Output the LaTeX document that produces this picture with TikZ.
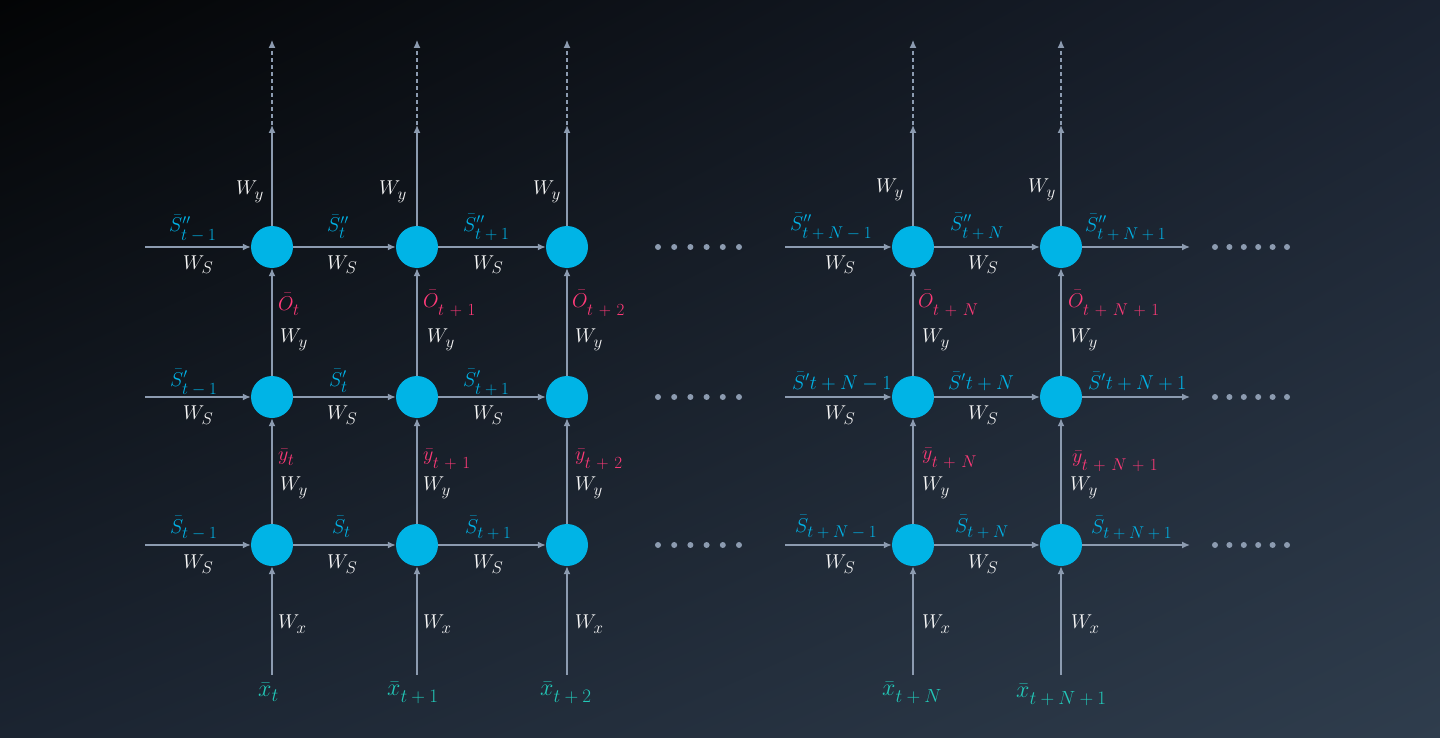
\RequirePackage{fix-cm}
\documentclass[tikz,border=0pt]{standalone}
\usetikzlibrary{arrows.meta,shadings}
\definecolor{bgUL}{HTML}{030405}
\definecolor{bgUR}{HTML}{1A2230}
\definecolor{bgLL}{HTML}{1B2431}
\definecolor{bgLR}{HTML}{2F3D4D}
\definecolor{nodecyan}{HTML}{00B4E6}
\definecolor{arrowgray}{HTML}{8C9BB0}
\definecolor{labelcyan}{HTML}{00B2E6}
\definecolor{labelpink}{HTML}{FF3A78}
\definecolor{labelteal}{HTML}{22C8B8}
\definecolor{labelwhite}{HTML}{F6F6F6}
% large subscripts, lowered
\newcommand\sbs[2][-4pt]{_{\raisebox{#1}{\fontsize{17}{20}\selectfont$#2$}}}
\newcommand\sbx[2][-4pt]{_{\raisebox{#1}{\fontsize{19}{22}\selectfont$#2$}}}
\newcommand\pp{\mskip6mu{+}\mskip6mu}
\newcommand\WS{W\sbs[-2pt]{S}}
\newcommand\Wy{W\sbs[-2pt]{y}}
\newcommand\Wx{W\sbs[-2pt]{x}}
\begin{document}
\begin{tikzpicture}[x=1pt,y=-1pt,
  neuron/.style={circle, fill=nodecyan, minimum size=42pt, inner sep=0pt},
  conn/.style={draw=arrowgray, line width=1.4pt, -{Latex[length=8pt,width=7pt]}},
  dashconn/.style={draw=arrowgray, line width=1.1pt, dash pattern=on 4pt off 3pt, -{Latex[length=8pt,width=7pt]}},
  lbl/.style={font=\fontsize{20}{24}\selectfont, inner sep=0pt, anchor=base west},
  wlbl/.style={lbl, text=labelwhite},
  slbl/.style={lbl, text=labelcyan},
  plbl/.style={lbl, text=labelpink},
  xlbl/.style={lbl, text=labelteal, font=\fontsize{24}{28}\selectfont},
  dotmark/.style={circle, fill=arrowgray, minimum size=6pt, inner sep=0pt}]
\useasboundingbox (0,0) rectangle (1440,738);
\shade[upper left=bgUL, upper right=bgUR, lower left=bgLL, lower right=bgLR] (0pt,0pt) rectangle (1440pt,-738pt);

% neurons
\foreach \c/\x in {1/272,2/417,3/567,4/913,5/1061}{
  \node[neuron] (a\c) at (\x,247) {};
  \node[neuron] (b\c) at (\x,397) {};
  \node[neuron] (c\c) at (\x,545) {};
  \coordinate (m\c) at (\x,125);
  \coordinate (t\c) at (\x,40);
  \coordinate (i\c) at (\x,675);
}
% free ends
\foreach \r/\y in {a/247,b/397,c/545}{
  \coordinate (in\r1) at (145,\y);
  \coordinate (in\r4) at (785,\y);
  \coordinate (out\r5) at (1190,\y);
}

% horizontal connectors
\foreach \r in {a,b,c}{
  \draw[conn] (in\r1) -- (\r1);
  \draw[conn] (\r1) -- (\r2);
  \draw[conn] (\r2) -- (\r3);
  \draw[conn] (in\r4) -- (\r4);
  \draw[conn] (\r4) -- (\r5);
  \draw[conn] (\r5) -- (out\r5);
}
% vertical connectors
\foreach \c in {1,2,3,4,5}{
  \draw[conn] (i\c) -- (c\c);
  \draw[conn] (c\c) -- (b\c);
  \draw[conn] (b\c) -- (a\c);
  \draw[conn] (a\c) -- (m\c);
  \draw[dashconn] (m\c) -- (t\c);
}

% dots
\foreach \r/\y in {a/247,b/397,c/545}{
  \foreach \k/\x in {1/658,2/674.2,3/690.4,4/706.6,5/722.8,6/739}{
    \node[dotmark] (dl\r\k) at (\x,\y) {};
  }
  \foreach \k/\x in {1/1215,2/1229.4,3/1243.8,4/1258.2,5/1272.6,6/1287}{
    \node[dotmark] (dr\r\k) at (\x,\y) {};
  }
}

% top W_y labels
\node[wlbl] (wt1) at (236,195) {$\Wy$};
\node[wlbl] (wt2) at (379,195) {$\Wy$};
\node[wlbl] (wt3) at (533,195) {$\Wy$};
\node[wlbl] (wt4) at (876,193) {$\Wy$};
\node[wlbl] (wt5) at (1028,193) {$\Wy$};

% top row state labels
\node[slbl] (sa0) at (169,232) {$\bar{S}''\sbs{t-1}$};
\node[slbl] (sa1) at (327,232) {$\bar{S}''\sbs[-2pt]{t}$};
\node[slbl] (sa2) at (463,231) {$\bar{S}''\sbs{t+1}$};
\node[slbl] (sa3) at (790,230) {$\bar{S}''\sbs{t+N-1}$};
\node[slbl] (sa4) at (950,230) {$\bar{S}''\sbs{t+N}$};
\node[slbl] (sa5) at (1085,231) {$\bar{S}''\sbs{t+N+1}$};
\node[wlbl] (wa0) at (183,269) {$\WS$};
\node[wlbl] (wa1) at (327,269) {$\WS$};
\node[wlbl] (wa2) at (473,269) {$\WS$};
\node[wlbl] (wa3) at (825,269) {$\WS$};
\node[wlbl] (wa4) at (968,269) {$\WS$};

% middle row state labels
\node[slbl] (sb0) at (170,386) {$\bar{S}'\sbs{t-1}$};
\node[slbl] (sb1) at (329,386) {$\bar{S}'\sbs[-2pt]{t}$};
\node[slbl] (sb2) at (463,386) {$\bar{S}'\sbs{t+1}$};
\node[slbl] (sb3) at (792,389) {$\bar{S}'t+N-1$};
\node[slbl] (sb4) at (948,389) {$\bar{S}'t+N$};
\node[slbl] (sb5) at (1088,389) {$\bar{S}'t+N+1$};
\node[wlbl] (wb0) at (183,419) {$\WS$};
\node[wlbl] (wb1) at (327,419) {$\WS$};
\node[wlbl] (wb2) at (473,419) {$\WS$};
\node[wlbl] (wb3) at (825,419) {$\WS$};
\node[wlbl] (wb4) at (968,419) {$\WS$};

% bottom row state labels
\node[slbl] (sc0) at (170,533) {$\bar{S}\sbs[-2pt]{t-1}$};
\node[slbl] (sc1) at (332,533) {$\bar{S}\sbs[-1pt]{t}$};
\node[slbl] (sc2) at (465,533) {$\bar{S}\sbs[-2pt]{t+1}$};
\node[slbl] (sc3) at (795,532) {$\bar{S}\sbs[-2pt]{t+N-1}$};
\node[slbl] (sc4) at (955,532) {$\bar{S}\sbs[-2pt]{t+N}$};
\node[slbl] (sc5) at (1091,533) {$\bar{S}\sbs[-2pt]{t+N+1}$};
\node[wlbl] (wc0) at (183,568) {$\WS$};
\node[wlbl] (wc1) at (327,568) {$\WS$};
\node[wlbl] (wc2) at (473,568) {$\WS$};
\node[wlbl] (wc3) at (825,568) {$\WS$};
\node[wlbl] (wc4) at (968,568) {$\WS$};

% O labels
\node[plbl] (o1) at (278,310) {$\bar{O}\sbs[-2pt]{t}$};
\node[plbl] (o2) at (423,307) {$\bar{O}\sbs[-5pt]{t\pp1}$};
\node[plbl] (o3) at (572,307) {$\bar{O}\sbs[-5pt]{t\pp2}$};
\node[plbl] (o4) at (918,307) {$\bar{O}\sbs[-5pt]{t\pp N}$};
\node[plbl] (o5) at (1068,307) {$\bar{O}\sbs[-5pt]{t\pp N\pp1}$};
\node[wlbl] (wo1) at (280,342) {$\Wy$};
\node[wlbl] (wo2) at (427,342) {$\Wy$};
\node[wlbl] (wo3) at (575,342) {$\Wy$};
\node[wlbl] (wo4) at (922,342) {$\Wy$};
\node[wlbl] (wo5) at (1070,342) {$\Wy$};

% y labels
\node[plbl] (y1) at (278,460) {$\bar{y}\sbs[-2pt]{t}$};
\node[plbl] (y2) at (423,460) {$\bar{y}\sbs[-5pt]{t\pp1}$};
\node[plbl] (y3) at (575,460) {$\bar{y}\sbs[-5pt]{t\pp2}$};
\node[plbl] (y4) at (922,459) {$\bar{y}\sbs[-5pt]{t\pp N}$};
\node[plbl] (y5) at (1072,462) {$\bar{y}\sbs[-5pt]{t\pp N\pp1}$};
\node[wlbl] (wy1) at (280,490) {$\Wy$};
\node[wlbl] (wy2) at (423,490) {$\Wy$};
\node[wlbl] (wy3) at (575,490) {$\Wy$};
\node[wlbl] (wy4) at (922,490) {$\Wy$};
\node[wlbl] (wy5) at (1070,490) {$\Wy$};

% W_x labels
\node[wlbl] (wx1) at (278,628) {$\Wx$};
\node[wlbl] (wx2) at (423,628) {$\Wx$};
\node[wlbl] (wx3) at (575,628) {$\Wx$};
\node[wlbl] (wx4) at (922,628) {$\Wx$};
\node[wlbl] (wx5) at (1071,628) {$\Wx$};

% x labels
\node[xlbl] (x1) at (258,696) {$\bar{x}\sbx[-2pt]{t}$};
\node[xlbl] (x2) at (387,695) {$\bar{x}\sbx{t+1}$};
\node[xlbl] (x3) at (540,695) {$\bar{x}\sbx{t+2}$};
\node[xlbl] (x4) at (882,695) {$\bar{x}\sbx{t+N}$};
\node[xlbl] (x5) at (1016,697) {$\bar{x}\sbx{t+N+1}$};
\end{tikzpicture}
\end{document}
